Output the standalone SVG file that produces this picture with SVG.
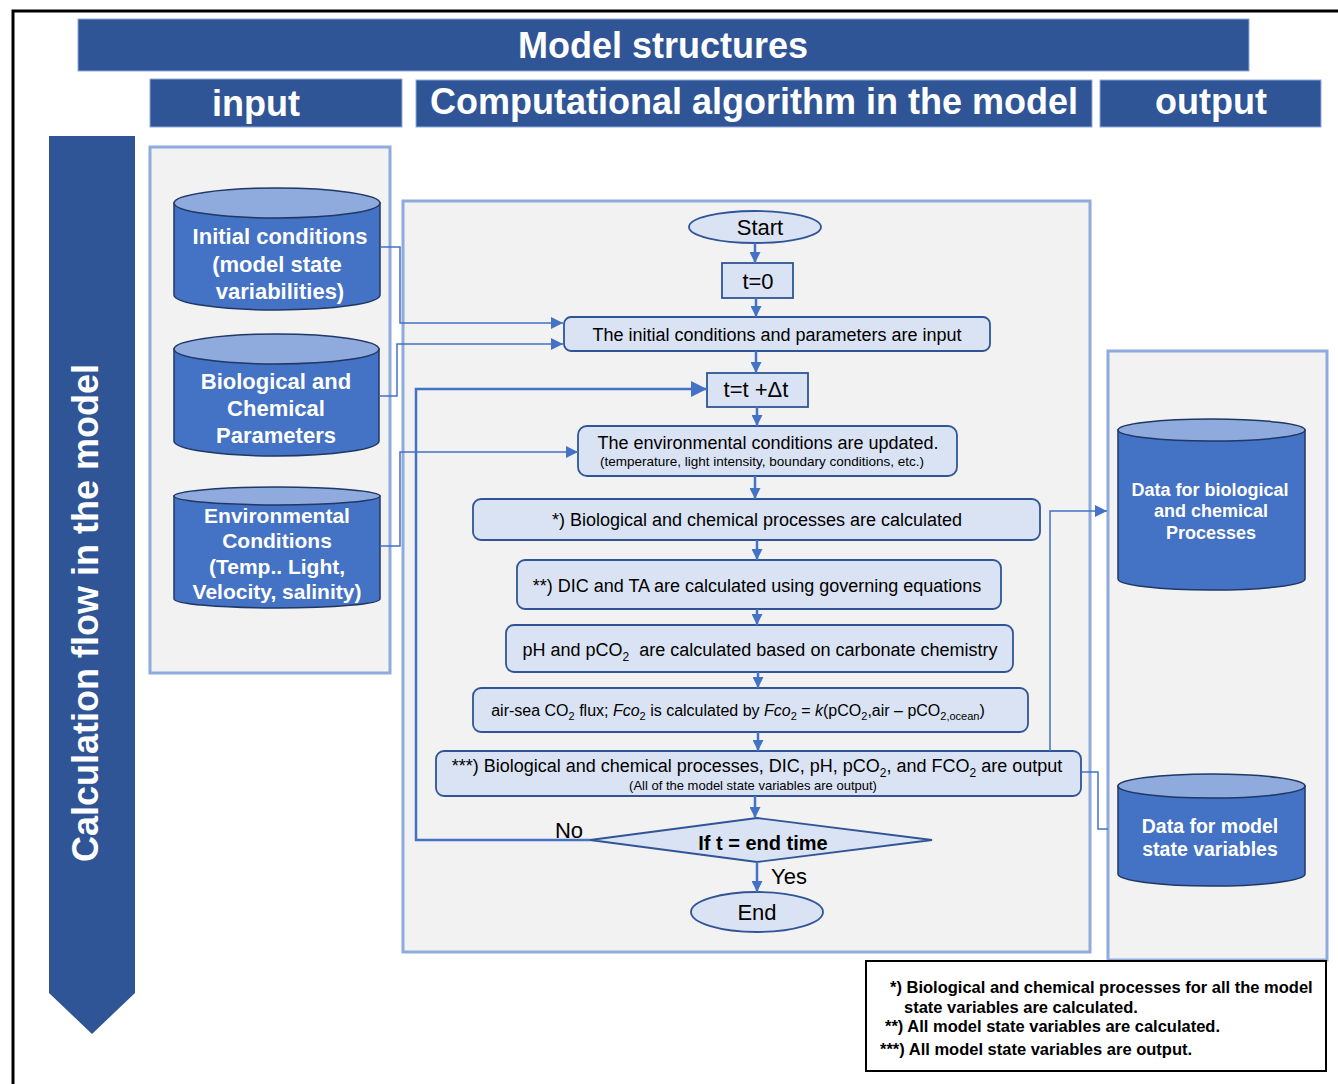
<svg xmlns="http://www.w3.org/2000/svg" width="1338" height="1084" viewBox="0 0 1338 1084">
  <defs>
    <style>
      .hdr { fill: #2F5597; stroke: #8FAADC; stroke-width: 1; }
      .hdrtxt { font-family: "Liberation Sans", Arial, sans-serif; font-weight: bold; font-size: 36px; fill: #FFFFFF; text-anchor: middle; }
      .panel { fill: #F2F2F2; stroke: #8FAADC; stroke-width: 3; }
      .cylbody { fill: #4472C4; stroke: #1F3864; stroke-width: 1.5; }
      .cyltop { fill: #8FAADC; stroke: #1F3864; stroke-width: 1.5; }
      .cyltxt { font-family: "Liberation Sans", Arial, sans-serif; font-weight: bold; fill: #FFFFFF; text-anchor: middle; }
      .box { fill: #DAE3F3; stroke: #2F5597; stroke-width: 1.8; }
      .txt { font-family: "Liberation Sans", Arial, sans-serif; fill: #000000; text-anchor: middle; }
      .flow { fill: none; stroke: #4472C4; stroke-width: 2.5; }
      .thin { fill: none; stroke: #4472C4; stroke-width: 1.5; }
      .legtxt { font-family: "Liberation Sans", Arial, sans-serif; font-weight: bold; font-size: 16.5px; fill: #000000; }
    </style>
    <marker id="arr" viewBox="0 0 10 10" refX="10" refY="5" markerWidth="4.4" markerHeight="4.4" markerUnits="strokeWidth" orient="auto">
      <path d="M0,0 L10,5 L0,10 Z" fill="#4472C4"/>
    </marker>
    <marker id="arrBig" viewBox="0 0 10 10" refX="10" refY="5" markerWidth="6.5" markerHeight="6.5" markerUnits="strokeWidth" orient="auto">
      <path d="M0,0 L10,5 L0,10 Z" fill="#4472C4"/>
    </marker>
    <marker id="arrThin" viewBox="0 0 10 10" refX="10" refY="5" markerWidth="8" markerHeight="8" markerUnits="strokeWidth" orient="auto">
      <path d="M0,0 L10,5 L0,10 Z" fill="#4472C4"/>
    </marker>
  </defs>

  <rect x="0" y="0" width="1338" height="1084" fill="#FFFFFF"/>

  <!-- outer frame (top and left edges) -->
  <path d="M13,1084 L13,11 L1338,11" fill="none" stroke="#000000" stroke-width="3"/>

  <!-- headers -->
  <g id="header-model-structures">
    <rect class="hdr" x="78" y="19" width="1171" height="52"/>
    <text class="hdrtxt" x="663" y="58">Model structures</text>
  </g>
  <g id="header-input">
    <rect class="hdr" x="150" y="79" width="252" height="48"/>
    <text class="hdrtxt" x="256" y="116">input</text>
  </g>
  <g id="header-algorithm">
    <rect class="hdr" x="416" y="80" width="676" height="47"/>
    <text class="hdrtxt" x="754" y="114">Computational algorithm in the model</text>
  </g>
  <g id="header-output">
    <rect class="hdr" x="1100" y="80" width="221" height="47"/>
    <text class="hdrtxt" x="1211" y="114">output</text>
  </g>

  <!-- calculation flow arrow -->
  <g id="calc-flow-arrow">
    <path d="M49,136 L135,136 L135,993 L92,1034 L49,993 Z" fill="#2F5597"/>
    <text class="hdrtxt" transform="translate(98,613) rotate(-90)" x="0" y="0">Calculation flow in the model</text>
  </g>

  <!-- panels -->
  <g id="input-panel"><rect class="panel" x="150" y="147" width="240" height="526"/></g>
  <g id="algorithm-panel"><rect class="panel" x="403" y="201" width="687" height="751"/></g>
  <g id="output-panel"><rect class="panel" x="1108" y="351" width="219" height="609"/></g>

  <!-- input cylinders -->
  <g id="cyl-initial">
    <path class="cylbody" d="M174,203 L174,295 A103,15 0 0 0 380,295 L380,203 Z"/>
    <ellipse class="cyltop" cx="277" cy="203" rx="103" ry="15"/>
    <text class="cyltxt" font-size="22" x="280" y="244">Initial conditions</text>
    <text class="cyltxt" font-size="22" x="277" y="272">(model state</text>
    <text class="cyltxt" font-size="22" x="280" y="299">variabilities)</text>
  </g>
  <g id="cyl-parameters">
    <path class="cylbody" d="M174,349 L174,441 A102.5,15 0 0 0 379,441 L379,349 Z"/>
    <ellipse class="cyltop" cx="276.5" cy="349" rx="102.5" ry="15"/>
    <text class="cyltxt" font-size="22" x="276" y="389">Biological and</text>
    <text class="cyltxt" font-size="22" x="276" y="416">Chemical</text>
    <text class="cyltxt" font-size="22" x="276" y="443">Parameters</text>
  </g>
  <g id="cyl-environment">
    <path class="cylbody" d="M174,496 L174,599 A103,9 0 0 0 380,599 L380,496 Z"/>
    <ellipse class="cyltop" cx="277" cy="496" rx="103" ry="9"/>
    <text class="cyltxt" font-size="21" x="277" y="523">Environmental</text>
    <text class="cyltxt" font-size="21" x="277" y="548">Conditions</text>
    <text class="cyltxt" font-size="21" x="277" y="574">(Temp.. Light,</text>
    <text class="cyltxt" font-size="21" x="277" y="599">Velocity, salinity)</text>
  </g>

  <!-- output cylinders -->
  <g id="cyl-out-processes">
    <path class="cylbody" d="M1118,430 L1118,579 A93.5,11 0 0 0 1305,579 L1305,430 Z"/>
    <ellipse class="cyltop" cx="1211.5" cy="430" rx="93.5" ry="11"/>
    <text class="cyltxt" font-size="18" x="1210" y="496">Data for biological</text>
    <text class="cyltxt" font-size="18" x="1211" y="517">and chemical</text>
    <text class="cyltxt" font-size="18" x="1211" y="539">Processes</text>
  </g>
  <g id="cyl-out-state">
    <path class="cylbody" d="M1118,786 L1118,874 A93.5,12 0 0 0 1305,874 L1305,786 Z"/>
    <ellipse class="cyltop" cx="1211.5" cy="786" rx="93.5" ry="12"/>
    <text class="cyltxt" font-size="19.5" x="1210" y="833">Data for model</text>
    <text class="cyltxt" font-size="19.5" x="1210" y="856">state variables</text>
  </g>

  <!-- flowchart nodes -->
  <g id="start">
    <ellipse class="box" cx="755" cy="227" rx="66" ry="16"/>
    <text class="txt" font-size="22" x="760" y="235">Start</text>
  </g>
  <g id="t-zero">
    <rect class="box" x="722" y="263" width="71" height="35"/>
    <text class="txt" font-size="22" x="758" y="289">t=0</text>
  </g>
  <g id="input-step">
    <rect class="box" x="564" y="317" width="426" height="34" rx="7"/>
    <text class="txt" font-size="18" x="777" y="341">The initial conditions and parameters are input</text>
  </g>
  <g id="t-step">
    <rect class="box" x="707" y="373" width="101" height="34"/>
    <text class="txt" font-size="22" x="756" y="397">t=t +Δt</text>
  </g>
  <g id="env-update">
    <rect class="box" x="578" y="426" width="379" height="50" rx="9"/>
    <text class="txt" font-size="18" x="768" y="449">The environmental conditions are updated.</text>
    <text class="txt" font-size="13.5" x="762" y="466">(temperature, light intensity, boundary conditions, etc.)</text>
  </g>
  <g id="bio-chem">
    <rect class="box" x="473" y="499" width="567" height="41" rx="8"/>
    <text class="txt" font-size="18" x="757" y="526">*) Biological and chemical processes are calculated</text>
  </g>
  <g id="dic-ta">
    <rect class="box" x="517" y="560" width="484" height="49" rx="8"/>
    <text class="txt" font-size="18" x="757" y="592">**) DIC and TA are calculated using governing equations</text>
  </g>
  <g id="ph-pco2">
    <rect class="box" x="506" y="625" width="507" height="47" rx="8"/>
    <text class="txt" font-size="18" x="760" y="656">pH and pCO<tspan font-size="12" dy="5">2</tspan><tspan dy="-5">&#160; are calculated based on carbonate chemistry</tspan></text>
  </g>
  <g id="air-sea">
    <rect class="box" x="473" y="688" width="555" height="44" rx="8"/>
    <text class="txt" font-size="16" x="738" y="716">air-sea CO<tspan font-size="11" dy="4">2</tspan><tspan dy="-4"> flux; </tspan><tspan font-style="italic">Fco</tspan><tspan font-size="11" dy="4">2</tspan><tspan dy="-4"> is calculated by </tspan><tspan font-style="italic">Fco</tspan><tspan font-size="11" dy="4">2</tspan><tspan dy="-4"> = </tspan><tspan font-style="italic">k</tspan>(pCO<tspan font-size="11" dy="4">2</tspan><tspan dy="-4">,air – pCO</tspan><tspan font-size="11" dy="4">2,ocean</tspan><tspan dy="-4">)</tspan></text>
  </g>
  <g id="output-step">
    <rect class="box" x="436" y="751" width="645" height="45" rx="8"/>
    <text class="txt" font-size="18" x="757" y="772">***) Biological and chemical processes, DIC, pH, pCO<tspan font-size="12" dy="5">2</tspan><tspan dy="-5">, and FCO</tspan><tspan font-size="12" dy="5">2</tspan><tspan dy="-5"> are output</tspan></text>
    <text class="txt" font-size="13" x="753" y="790">(All of the model state variables are output)</text>
  </g>
  <g id="end-check">
    <path class="box" d="M590,840 L757,818 L932,840 L757,862 Z"/>
    <text class="txt" font-size="20" font-weight="bold" x="763" y="850">If t = end time</text>
  </g>
  <g id="end">
    <ellipse class="box" cx="757" cy="912" rx="66" ry="20"/>
    <text class="txt" font-size="22" x="757" y="920">End</text>
  </g>

  <!-- connectors -->
  <g id="connectors">
    <!-- main sequence -->
    <line class="flow" x1="755" y1="243" x2="755" y2="263" marker-end="url(#arr)"/>
    <line class="flow" x1="756" y1="298" x2="756" y2="317" marker-end="url(#arr)"/>
    <line class="flow" x1="756" y1="351" x2="756" y2="373" marker-end="url(#arr)"/>
    <line class="flow" x1="757" y1="407" x2="757" y2="426" marker-end="url(#arr)"/>
    <line class="flow" x1="755" y1="476" x2="755" y2="499" marker-end="url(#arr)"/>
    <line class="flow" x1="757" y1="540" x2="757" y2="560" marker-end="url(#arr)"/>
    <line class="flow" x1="757" y1="609" x2="757" y2="625" marker-end="url(#arr)"/>
    <line class="flow" x1="758" y1="672" x2="758" y2="688" marker-end="url(#arr)"/>
    <line class="flow" x1="758" y1="732" x2="758" y2="751" marker-end="url(#arr)"/>
    <line class="flow" x1="755" y1="796" x2="755" y2="818" marker-end="url(#arr)"/>
    <line class="flow" x1="757" y1="862" x2="757" y2="892" marker-end="url(#arr)"/>
    <!-- loop back when not finished -->
    <polyline class="flow" points="590,840 416,840 416,389 707,389" marker-end="url(#arrBig)"/>
    <text class="txt" font-size="22" x="569" y="838">No</text>
    <text class="txt" font-size="22" x="789" y="884">Yes</text>
    <!-- inputs -->
    <polyline class="thin" points="380,247 400,247 400,323 563,323" marker-end="url(#arrThin)"/>
    <polyline class="thin" points="379,396 397,396 397,344 563,344" marker-end="url(#arrThin)"/>
    <polyline class="thin" points="380,546 400,546 400,452 578,452" marker-end="url(#arrThin)"/>
    <!-- outputs -->
    <polyline class="thin" points="1050,751 1050,511 1107,511" marker-end="url(#arrThin)"/>
    <polyline class="thin" points="1081,772 1098,772 1098,829 1108,829"/>
  </g>

  <!-- footnotes -->
  <g id="legend">
    <rect x="866" y="961" width="460" height="110" fill="#FFFFFF" stroke="#000000" stroke-width="2"/>
    <text class="legtxt" x="890" y="993">*) Biological and chemical processes for all the model</text>
    <text class="legtxt" x="904" y="1013">state variables are calculated.</text>
    <text class="legtxt" x="885" y="1032">**) All model state variables are calculated.</text>
    <text class="legtxt" x="880" y="1055">***) All model state variables are output.</text>
  </g>
</svg>
